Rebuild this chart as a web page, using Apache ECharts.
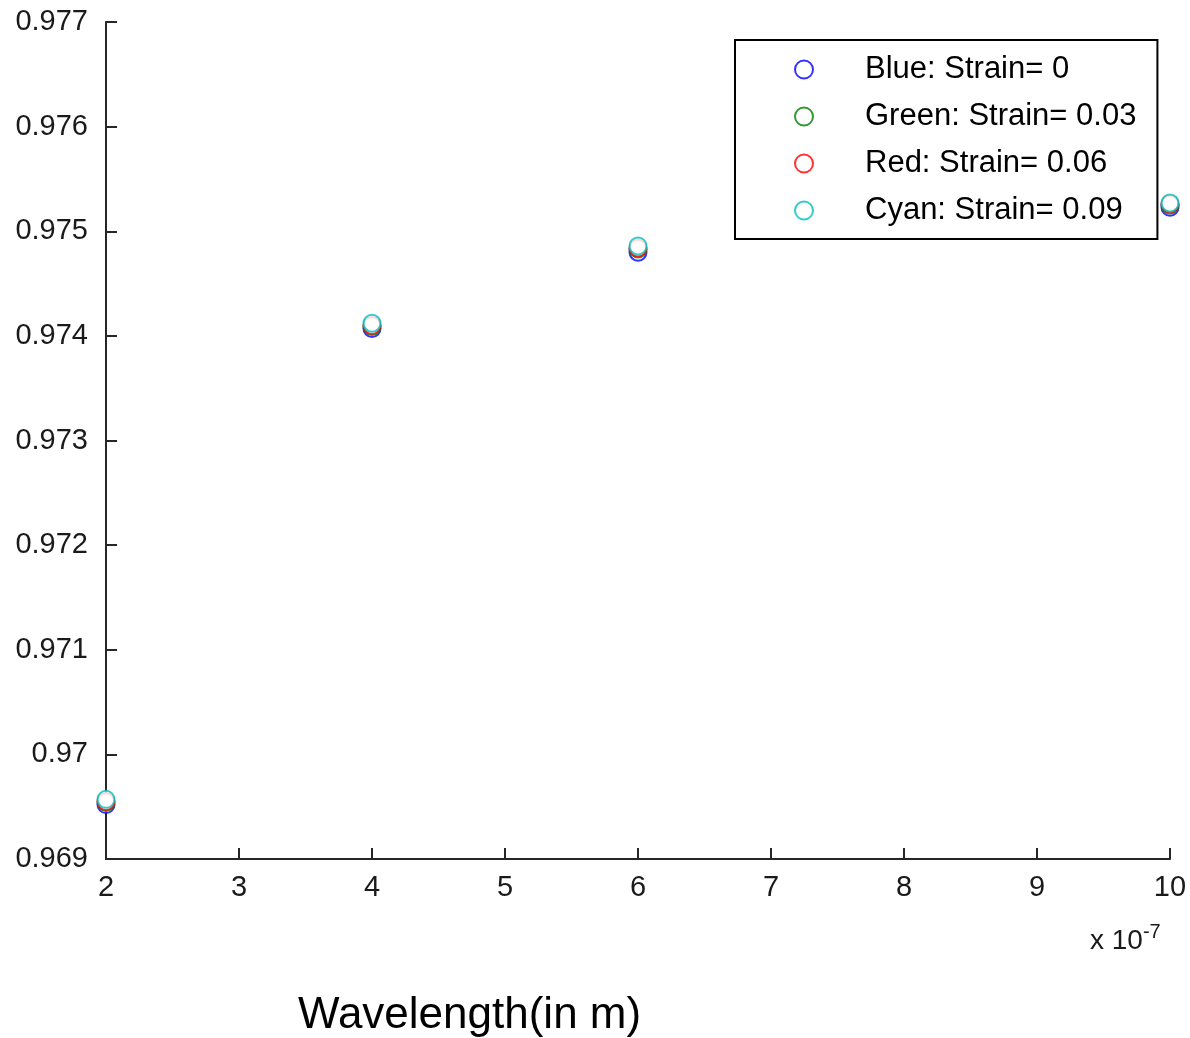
<!DOCTYPE html>
<html>
<head>
<meta charset="utf-8">
<script src="https://cdn.jsdelivr.net/npm/echarts@6/dist/echarts.min.js"></script>
<style>
	html, body { margin: 0; padding: 0; background: #fff; }
	#chart { width: 1190px; height: 1038px; }
</style>
</head>
<body>
<div id="chart"></div>
<script>
// wavelength, in units of 1e-7 m
var wavelength = [2, 4, 6, 10];
var strainNames = ['Blue: Strain= 0', 'Green: Strain= 0.03', 'Red: Strain= 0.06', 'Cyan: Strain= 0.09'];
var strainColors = ['#0000ff', '#008000', '#ff0000', '#00bfbf'];
var blueVals = [0.96952, 0.97407, 0.97480, 0.97523];
var greenVals = [0.96954, 0.97409, 0.97483, 0.97525];
var redVals = [0.96955, 0.97410, 0.97484, 0.97526];
var cyanVals = [0.96957, 0.97412, 0.97486, 0.97527];

var allVals = [blueVals, greenVals, redVals, cyanVals];
var myChart = echarts.init(document.getElementById('chart'));

var tickFont = 'Liberation Sans';
var axisColor = '#262626';

var series = allVals.map(function (vals, i) {
	return {
		name: strainNames[i],
		type: 'scatter',
		symbol: 'emptyCircle',
		symbolSize: 17,
		itemStyle: {
			color: strainColors[i],
			borderColor: strainColors[i],
			borderWidth: 2
		},
		data: wavelength.map(function (x, j) { return [x, vals[j]]; })
	};
});

var option = {
	animation: false,
	backgroundColor: '#fff',
	grid: {
		left: 106,
		right: 20,
		top: 22,
		bottom: 179
	},
	legend: {
		orient: 'vertical',
		left: 735,
		top: 40,
		padding: [14, 21, 13, 59],
		borderColor: '#000',
		borderWidth: 2,
		backgroundColor: '#fff',
		itemWidth: 112,
		itemHeight: 18,
		itemGap: 16,
		icon: 'emptyCircle',
		data: strainNames,
		textStyle: {
			fontFamily: tickFont,
			fontSize: 31,
			lineHeight: 30,
			color: '#000'
		}
	},
	xAxis: {
		type: 'value',
		min: 2,
		max: 10,
		interval: 1,
		axisLine: { show: true, onZero: false, lineStyle: { color: axisColor, width: 2 } },
		axisTick: { show: true, inside: true, length: 11, lineStyle: { color: axisColor, width: 2 } },
		splitLine: { show: false },
		axisLabel: {
			margin: 14,
			fontFamily: tickFont,
			fontSize: 29,
			color: '#1a1a1a'
		}
	},
	yAxis: {
		type: 'value',
		min: 0.969,
		max: 0.977,
		interval: 0.001,
		axisLine: { show: true, onZero: false, lineStyle: { color: axisColor, width: 2 } },
		axisTick: { show: true, inside: true, length: 11, lineStyle: { color: axisColor, width: 2 } },
		splitLine: { show: false },
		axisLabel: {
			margin: 18,
			fontFamily: tickFont,
			fontSize: 29,
			color: '#1a1a1a',
			formatter: function (v) {
				return String(parseFloat(v.toFixed(3)));
			}
		}
	},
	graphic: [
		{
			type: 'text',
			left: 1090,
			top: 922,
			style: {
				text: 'x 10{sup|-7}',
				fontFamily: tickFont,
				fontSize: 28,
				fill: '#1a1a1a',
				rich: {
					sup: {
						fontFamily: tickFont,
						fontSize: 20,
						verticalAlign: 'top',
						padding: [0, 0, 18, 0]
					}
				}
			}
		},
		{
			type: 'text',
			left: 298,
			top: 994,
			style: {
				text: 'Wavelength(in m)',
				fontFamily: tickFont,
				fontSize: 44,
				fill: '#000'
			}
		}
	],
	series: series
};

myChart.setOption(option);
</script>
</body>
</html>
